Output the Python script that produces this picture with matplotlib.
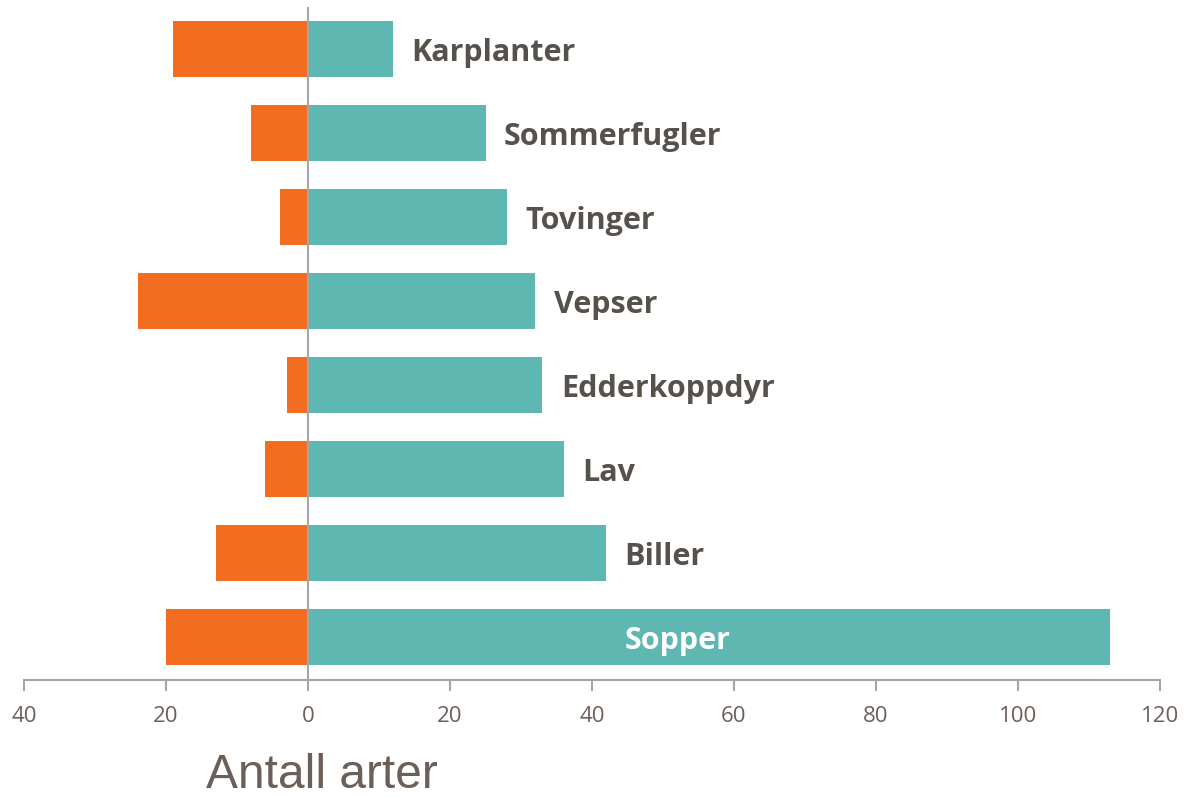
import matplotlib
matplotlib.use("Agg")
import matplotlib.pyplot as plt
from matplotlib.ticker import FuncFormatter, MultipleLocator

categories = ["Sopper", "Biller", "Lav", "Edderkoppdyr", "Vepser", "Tovinger", "Sommerfugler", "Karplanter"]
right_values = [113, 42, 36, 33, 32, 28, 25, 12]
left_values = [20, 13, 6, 3, 24, 4, 8, 19]
xlabel = "Antall arter"

orange = "#F36D21"
teal = "#5EB7B1"
text_col = "#57514C"
tick_col = "#6B5F58"
axis_col = "#A6A6A6"

fig = plt.figure(figsize=(11.84, 7.97), dpi=100)
ax = fig.add_axes([24/1184, 117/797, (1160-24)/1184, (680-7)/797])

y = list(range(len(categories)))
ax.barh(y, [-v for v in left_values], height=0.667, color=orange, zorder=2)
ax.barh(y, right_values, height=0.667, color=teal, zorder=2)
ax.axvline(0, color=axis_col, lw=1.5, zorder=3)

fs = 22
for i, (cat, v) in enumerate(zip(categories, right_values)):
    if cat == "Sopper":
        ax.text(52, i - 0.14, cat, ha="center", va="baseline", color="white",
                fontsize=fs, fontweight="bold", family="Open Sans", zorder=4)
    else:
        ax.text(v + 2.6, i - 0.14, cat, ha="left", va="baseline", color=text_col,
                fontsize=fs, fontweight="bold", family="Open Sans", zorder=4)

ax.set_xlim(-40, 120)
ax.set_ylim(-0.512, 7.5)
ax.xaxis.set_major_locator(MultipleLocator(20))
ax.xaxis.set_major_formatter(FuncFormatter(lambda x, p: f"{abs(int(round(x)))}"))
ax.set_yticks([])
for s in ["top", "right", "left"]:
    ax.spines[s].set_visible(False)
ax.spines["bottom"].set_color(axis_col)
ax.spines["bottom"].set_linewidth(1.5)
ax.tick_params(axis="x", direction="out", length=8, width=1.5, color=axis_col,
               labelcolor=tick_col, labelsize=16, pad=11)
for lab in ax.get_xticklabels():
    lab.set_family("Open Sans")

fig.text(322/1184, 1 - 776/797, xlabel, ha="center", va="center",
         fontsize=34.5, color=tick_col, family="Liberation Sans")

fig.savefig("out.png", dpi=100)
